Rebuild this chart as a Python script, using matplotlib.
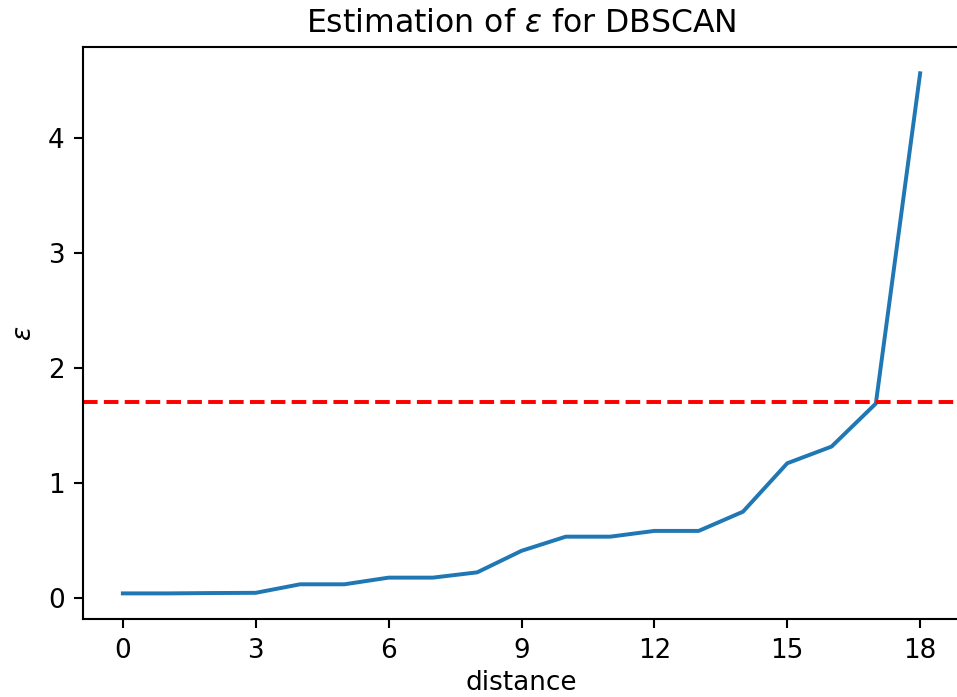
import matplotlib

matplotlib.use("Agg")
import matplotlib.pyplot as plt
from matplotlib.ticker import MultipleLocator

# k-distance values
positions = list(range(19))
k_dist = [0.040, 0.040, 0.043, 0.045, 0.119, 0.119, 0.177, 0.177, 0.223, 0.410,
          0.533, 0.533, 0.583, 0.583, 0.750, 1.171, 1.316, 1.690, 4.560]
eps_cut = 1.70

DPI = 189
fig = plt.figure(figsize=(957 / DPI, 697 / DPI), dpi=DPI)
ax = fig.add_axes([83 / 957, (697 - 619.4) / 697, (960 - 83) / 957, (619.4 - 47.3) / 697])
ax.plot(positions, k_dist, color="#1f77b4", lw=1.5)
ax.axhline(eps_cut, color="red", ls="--", lw=1.5)
ax.xaxis.set_major_locator(MultipleLocator(3))
ax.set_title(r"Estimation of $\varepsilon$ for DBSCAN")
ax.set_xlabel("distance", labelpad=2.5)
ax.set_ylabel(r"$\varepsilon$")
fig.savefig("out.png", dpi=DPI)
